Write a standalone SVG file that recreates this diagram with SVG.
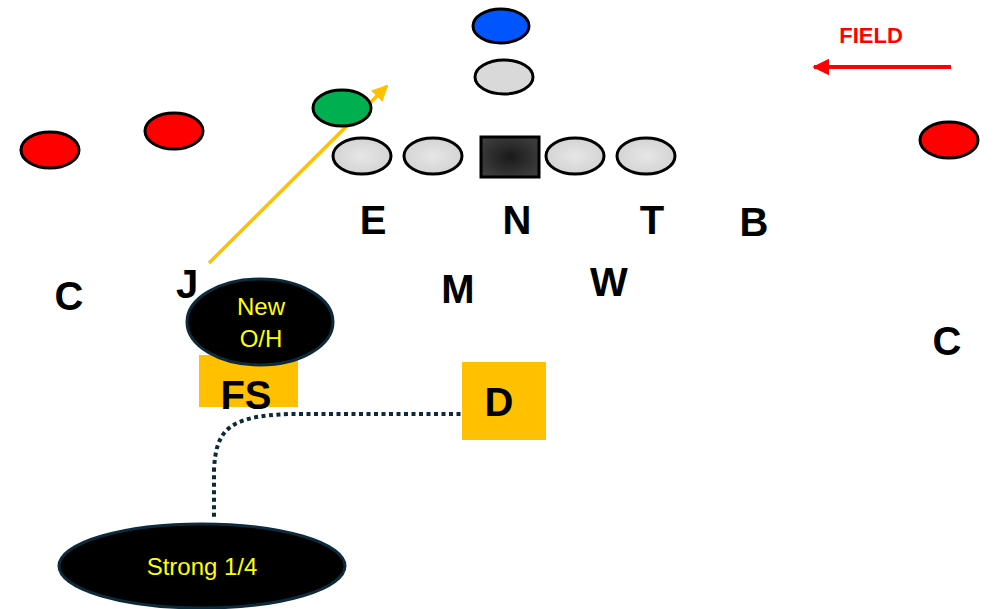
<svg xmlns="http://www.w3.org/2000/svg" width="995" height="609" viewBox="0 0 995 609">
<defs>
<radialGradient id="gl" cx="50%" cy="50%" r="50%">
<stop offset="0" stop-color="#E6E6E6"/>
<stop offset="1" stop-color="#D4D4D4"/>
</radialGradient>
<radialGradient id="gd" cx="50%" cy="50%" r="60%">
<stop offset="0" stop-color="#1A1A1A"/>
<stop offset="1" stop-color="#3E3E3E"/>
</radialGradient>
<marker id="ay" viewBox="0 0 10 10" refX="9" refY="5" markerWidth="4.6" markerHeight="4.6" orient="auto" markerUnits="strokeWidth">
<path d="M0,0 L10,5 L0,10 z" fill="#FFC000"/>
</marker>
<marker id="ar" viewBox="0 0 10 10" refX="9" refY="5" markerWidth="4.3" markerHeight="4.3" orient="auto" markerUnits="strokeWidth">
<path d="M0,0 L10,5 L0,10 z" fill="#FF0000"/>
</marker>
<style>
.p{stroke:#000;stroke-width:3}
.red{fill:#FF0000}
.lt{fill:url(#gl)}
.lbl{font-family:"Liberation Sans",Arial,sans-serif;font-weight:bold;font-size:40px;fill:#000;text-anchor:middle}
.yt{font-family:"Liberation Sans",Arial,sans-serif;font-size:24px;fill:#FFFF00;text-anchor:middle}
.bub{fill:#000;stroke:#0D2A3A;stroke-width:3}
.gold{fill:#FFC000}
</style>
</defs>
<g id="connectors">
<line x1="209" y1="263" x2="387" y2="86" stroke="#FFC000" stroke-width="3.5" marker-end="url(#ay)"/>
<line x1="951" y1="67" x2="814" y2="67" stroke="#FF0000" stroke-width="4" marker-end="url(#ar)"/>
<path d="M468,414 H290 C228,416 216,430 214,470 V519" fill="none" stroke="#0D2A3A" stroke-width="4" stroke-dasharray="4 3.5"/>
</g>
<g id="field"><text x="871" y="43" font-family="Liberation Sans,Arial,sans-serif" font-weight="bold" font-size="22" fill="#FF0000" text-anchor="middle">FIELD</text></g>
<g id="qb"><ellipse cx="501" cy="26" rx="28" ry="17" fill="#0055FF" class="p"/></g>
<g id="back"><ellipse cx="504" cy="77" rx="29" ry="17" fill="#D9D9D9" class="p"/></g>
<g id="green"><ellipse cx="342" cy="108" rx="29" ry="18" fill="#00B050" class="p"/></g>
<g id="ol1"><ellipse cx="362" cy="156" rx="29" ry="18" class="p lt"/></g>
<g id="ol2"><ellipse cx="433" cy="156" rx="29" ry="18" class="p lt"/></g>
<g id="center"><rect x="481" y="137" width="58" height="40" fill="url(#gd)" stroke="#000" stroke-width="3"/></g>
<g id="ol4"><ellipse cx="575" cy="156" rx="29" ry="18" class="p lt"/></g>
<g id="ol5"><ellipse cx="646" cy="156" rx="29" ry="18" class="p lt"/></g>
<g id="wr1"><ellipse cx="50" cy="150" rx="29" ry="18" class="p red"/></g>
<g id="wr2"><ellipse cx="174" cy="131" rx="29" ry="18" class="p red"/></g>
<g id="wr3"><ellipse cx="949" cy="140" rx="29" ry="18" class="p red"/></g>
<g id="E"><text class="lbl" x="373" y="234">E</text></g>
<g id="N"><text class="lbl" x="517" y="234">N</text></g>
<g id="T"><text class="lbl" x="652" y="234">T</text></g>
<g id="B"><text class="lbl" x="754" y="236">B</text></g>
<g id="C1"><text class="lbl" x="69" y="310">C</text></g>
<g id="J"><text class="lbl" x="187" y="298">J</text></g>
<g id="M"><text class="lbl" x="458" y="303">M</text></g>
<g id="W"><text class="lbl" x="609" y="296">W</text></g>
<g id="C2"><text class="lbl" x="947" y="355">C</text></g>
<g id="FS"><rect x="199" y="355" width="99" height="52" class="gold"/><text class="lbl" x="246" y="409">FS</text></g>
<g id="newoh"><ellipse cx="260" cy="322" rx="73" ry="43" class="bub"/><text class="yt" x="261" y="315">New</text><text class="yt" x="261" y="347">O/H</text></g>
<g id="D"><rect x="462" y="362" width="84" height="78" class="gold"/><text class="lbl" x="499" y="416">D</text></g>
<g id="strong"><ellipse cx="202" cy="566" rx="143" ry="42" class="bub"/><text class="yt" x="202" y="575">Strong 1/4</text></g>
</svg>
